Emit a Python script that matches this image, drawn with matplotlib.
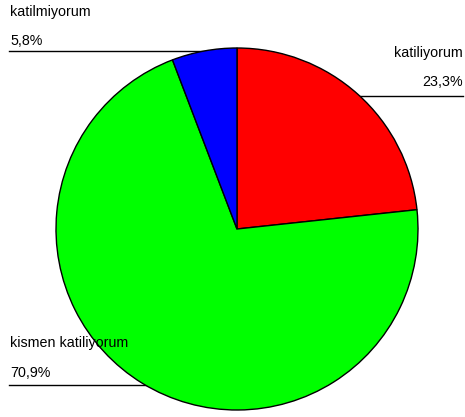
import matplotlib.pyplot as plt

labels = ["katiliyorum", "kismen katiliyorum", "katilmiyorum"]
values = [23.3, 70.9, 5.8]
colors = ["#FF0000", "#00FF00", "#0000FF"]
pct_labels = ["23,3%", "70,9%", "5,8%"]

W, H = 465, 417
fig = plt.figure(figsize=(W / 100, H / 100), dpi=100)
ax = fig.add_axes([0, 0, 1, 1])

ax.pie(values, colors=colors, startangle=90, counterclock=False,
       center=(237, H - 229), radius=181,
       wedgeprops=dict(edgecolor="black", linewidth=1), frame=True)
ax.set_xlim(0, W)
ax.set_ylim(0, H)
ax.axis("off")

font = dict(family=["Liberation Sans", "DejaVu Sans"], fontsize=10.3, color="black")

# katiliyorum (right)
ax.plot([355, 463], [H - 96, H - 96], color="black", lw=1, zorder=0)
ax.text(463, H - 53, labels[0], ha="right", va="center", **font)
ax.text(463, H - 82, pct_labels[0], ha="right", va="center", **font)

# kismen katiliyorum (bottom left)
ax.plot([9, 150], [H - 385, H - 385], color="black", lw=1, zorder=0)
ax.text(10, H - 343, labels[1], ha="left", va="center", zorder=5, **font)
ax.text(10, H - 373, pct_labels[1], ha="left", va="center", **font)

# katilmiyorum (top left)
ax.plot([9, 215], [H - 51, H - 51], color="black", lw=1, zorder=0)
ax.text(10, H - 12, labels[2], ha="left", va="center", **font)
ax.text(10, H - 41, pct_labels[2], ha="left", va="center", **font)

fig.savefig("out.png", dpi=100)
